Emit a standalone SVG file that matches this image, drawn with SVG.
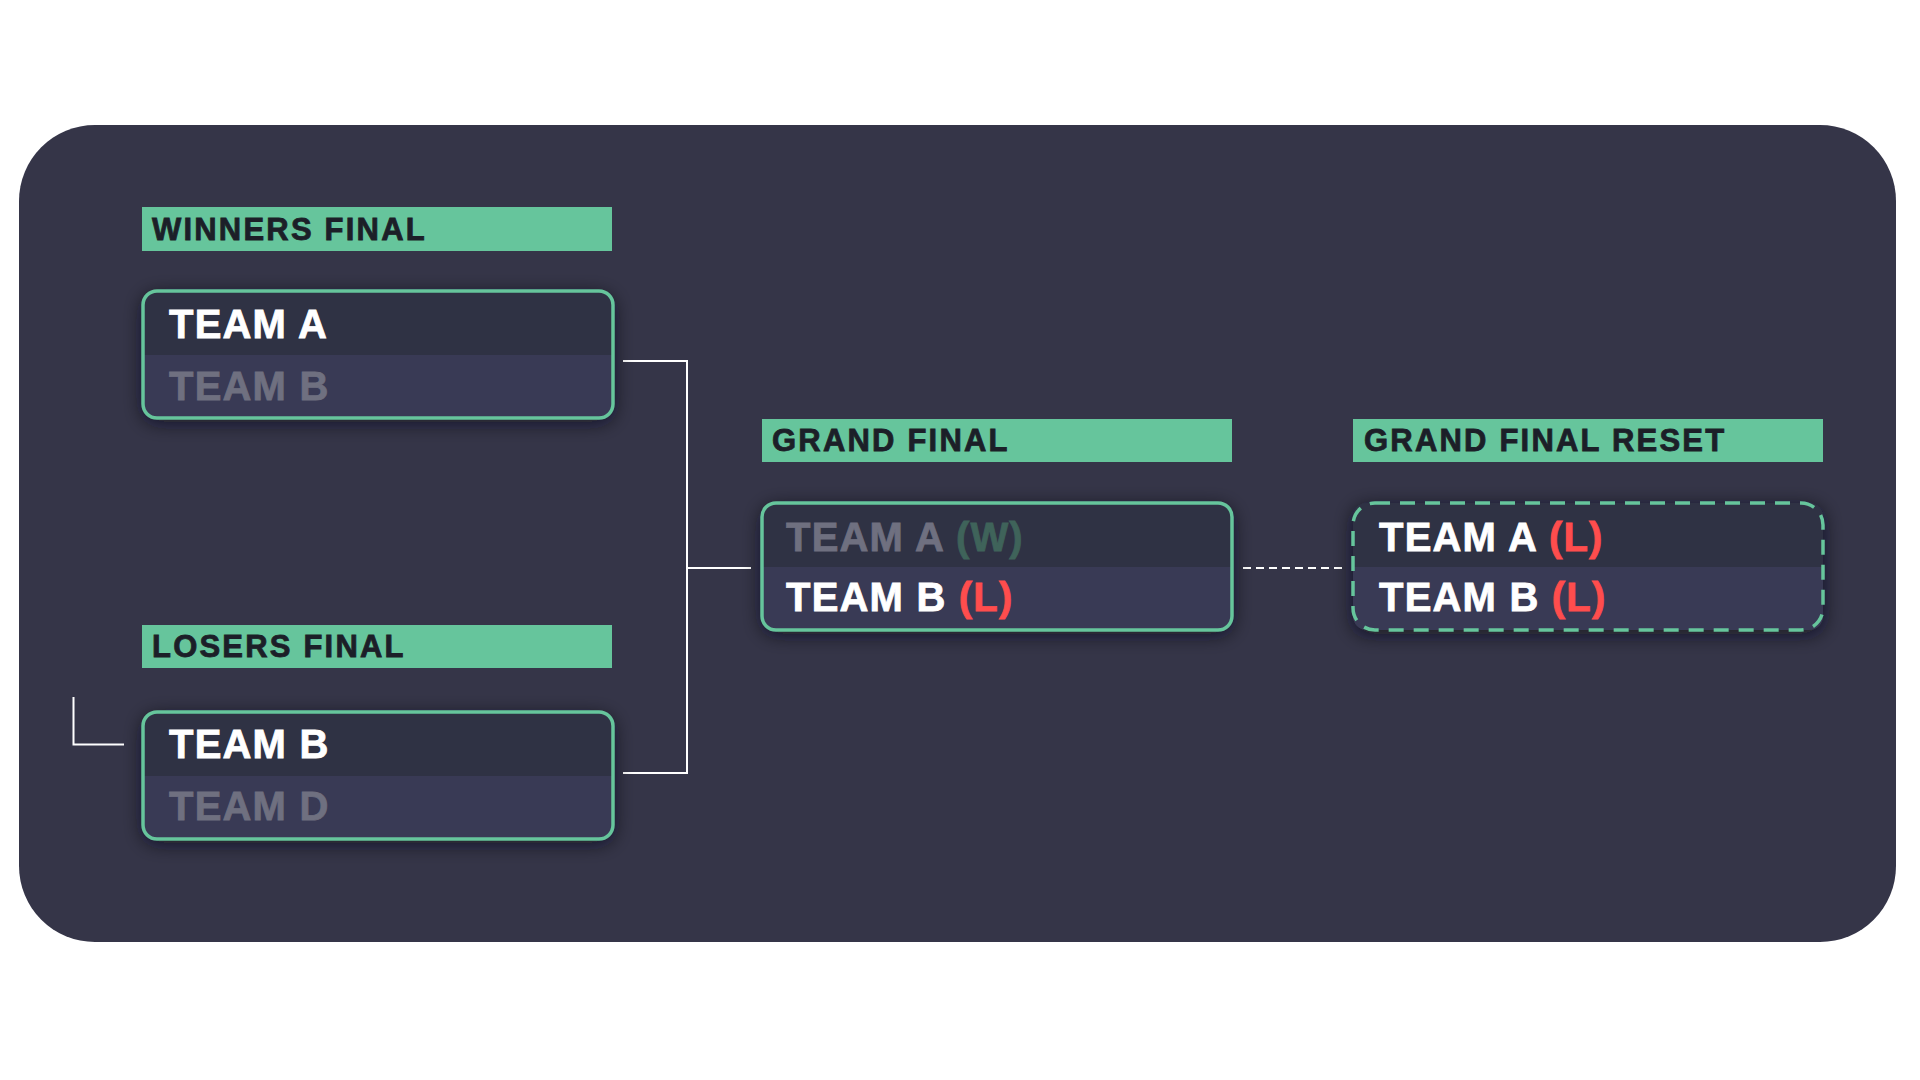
<svg xmlns="http://www.w3.org/2000/svg" width="1920" height="1080" viewBox="0 0 1920 1080">
<defs>
<style>
.label{fill:#66c59c}
.ltext{font-family:"Liberation Sans",Arial,sans-serif;font-weight:700;font-size:31px;fill:#1c1f28;letter-spacing:2.2px;stroke:#1c1f28;stroke-width:0.8px}
.team{font-family:"Liberation Sans",Arial,sans-serif;font-weight:700;font-size:40px;letter-spacing:1.2px}
.win{fill:#ffffff;stroke:#ffffff;stroke-width:0.8px}
.lose{fill:#6f7080;stroke:#6f7080;stroke-width:0.8px}
.w{fill:#3f635a;stroke:#3f635a;stroke-width:0.8px}
.l{fill:#ff4d4d;stroke:#ff4d4d;stroke-width:0.8px}
.row1{fill:#2f3244}
.row2{fill:#393a55}
.frame{fill:none;stroke:#66c59c;stroke-width:3.5}
.dash{stroke-dasharray:15 10}
.conn{fill:none;stroke:#ffffff;stroke-width:2}
</style>
<clipPath id="boxclip"><rect x="0" y="0" width="470" height="127" rx="14"/></clipPath>
<filter id="shadow" x="-20%" y="-40%" width="140%" height="180%">
<feDropShadow dx="0" dy="4" stdDeviation="10" flood-color="#15161f" flood-opacity="0.75"/>
</filter>
</defs>
<rect x="0" y="0" width="1920" height="1080" fill="#ffffff"/>
<rect id="background" x="19" y="125" width="1877" height="817" rx="76" fill="#353548"/>

<g id="connectors">
<polyline class="conn" points="623,361 687,361 687,773 623,773"/>
<line class="conn" x1="687" y1="568" x2="751" y2="568"/>
<polyline class="conn" points="73.5,697 73.5,744.5 124,744.5"/>
<line class="conn" x1="1243" y1="568" x2="1343" y2="568" stroke-dasharray="8 5"/>
</g>

<g id="winners-final">
<rect class="label" x="142" y="207" width="470" height="44"/>
<text class="ltext" x="152" y="240">WINNERS FINAL</text>
<g transform="translate(143,291)">
<g filter="url(#shadow)"><rect x="0" y="0" width="470" height="127" rx="14" class="row1"/></g>
<g clip-path="url(#boxclip)"><rect class="row1" x="0" y="0" width="470" height="64"/><rect class="row2" x="0" y="64" width="470" height="63"/></g>
<rect class="frame" x="0" y="0" width="470" height="127" rx="14"/>
<text class="team win" x="26" y="47">TEAM A</text>
<text class="team lose" x="26" y="109">TEAM B</text>
</g>
</g>

<g id="losers-final">
<rect class="label" x="142" y="625" width="470" height="43"/>
<text class="ltext" x="152" y="657">LOSERS FINAL</text>
<g transform="translate(143,712)">
<g filter="url(#shadow)"><rect x="0" y="0" width="470" height="127" rx="14" class="row1"/></g>
<g clip-path="url(#boxclip)"><rect class="row1" x="0" y="0" width="470" height="64"/><rect class="row2" x="0" y="64" width="470" height="63"/></g>
<rect class="frame" x="0" y="0" width="470" height="127" rx="14"/>
<text class="team win" x="26" y="46">TEAM B</text>
<text class="team lose" x="26" y="108">TEAM D</text>
</g>
</g>

<g id="grand-final">
<rect class="label" x="762" y="419" width="470" height="43"/>
<text class="ltext" x="772" y="451">GRAND FINAL</text>
<g transform="translate(762,503)">
<g filter="url(#shadow)"><rect x="0" y="0" width="470" height="127" rx="14" class="row1"/></g>
<g clip-path="url(#boxclip)"><rect class="row1" x="0" y="0" width="470" height="64"/><rect class="row2" x="0" y="64" width="470" height="63"/></g>
<rect class="frame" x="0" y="0" width="470" height="127" rx="14"/>
<text class="team" x="24" y="48"><tspan class="lose">TEAM A </tspan><tspan class="w">(W)</tspan></text>
<text class="team" x="24" y="108"><tspan class="win">TEAM B </tspan><tspan class="l">(L)</tspan></text>
</g>
</g>

<g id="grand-final-reset">
<rect class="label" x="1353" y="419" width="470" height="43"/>
<text class="ltext" x="1364" y="451">GRAND FINAL RESET</text>
<g transform="translate(1353,503)">
<g filter="url(#shadow)"><rect x="0" y="0" width="470" height="127" rx="14" class="row1"/></g>
<g clip-path="url(#boxclip)"><rect class="row1" x="0" y="0" width="470" height="64"/><rect class="row2" x="0" y="64" width="470" height="63"/></g>
<rect class="frame dash" x="0" y="0" width="470" height="127" rx="22"/>
<text class="team" x="26" y="48"><tspan class="win">TEAM A </tspan><tspan class="l">(L)</tspan></text>
<text class="team" x="26" y="108"><tspan class="win">TEAM B </tspan><tspan class="l">(L)</tspan></text>
</g>
</g>
</svg>
